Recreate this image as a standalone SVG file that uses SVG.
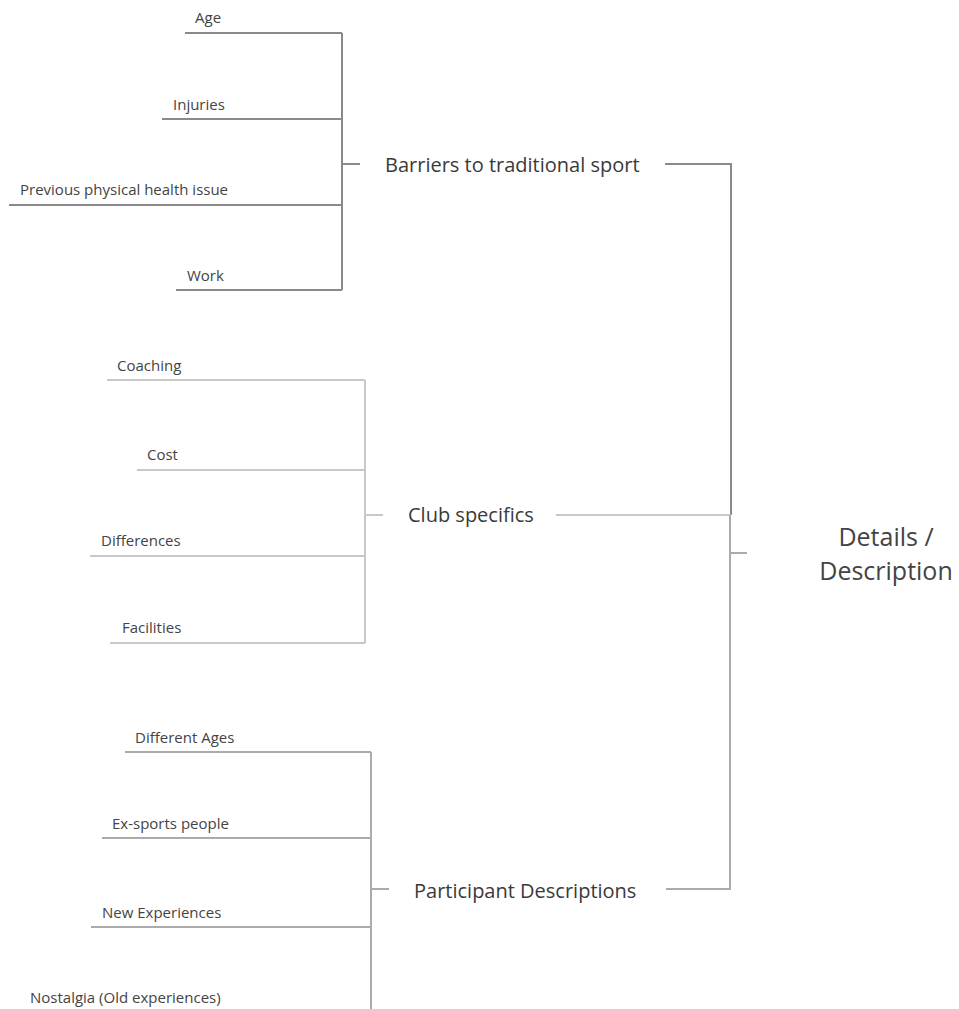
<svg xmlns="http://www.w3.org/2000/svg" width="959" height="1009" viewBox="0 0 959 1009">
<style>
text{font-family:"Open Sans","Noto Sans","Liberation Sans",sans-serif;fill:#444}
.leaf{font-size:15px}
.mid{font-size:20px;font-weight:500;fill:#3a3a3a}
.root{font-size:25px;fill:#444;text-anchor:middle}
.c{fill:none;stroke-width:2}
.b{stroke:#8a8a8a}
.s{stroke:#c8c8c8}
.p{stroke:#ababab}
</style>
<rect width="959" height="1009" fill="#fff"/>
<g id="connectors">
<path class="c b" d="M185 33H342M162 119H342M9 205H342M176 290H342M342 33V290M342 164H360"/>
<path class="c b" d="M665 164H731V515"/>
<path class="c s" d="M107 380H365M137 470H365M90 556H365M110 643H365M365 380V643M365 515H383"/>
<path class="c s" d="M556 515H731"/>
<path class="c p" d="M125 752H371M102 838H371M91 927H371M371 752V1009M371 889H389"/>
<path class="c p" d="M666 889H730V515M730 553H747"/>
</g>
<g id="root"><text class="root" x="886" y="546">Details /</text><text class="root" x="886" y="580">Description</text></g>
<g id="barriers"><text class="mid" x="385" y="172">Barriers to traditional sport</text></g>
<g id="club"><text class="mid" x="408" y="522">Club specifics</text></g>
<g id="participant"><text class="mid" x="414" y="898">Participant Descriptions</text></g>
<g id="age"><text class="leaf" x="195" y="23">Age</text></g>
<g id="injuries"><text class="leaf" x="173" y="110">Injuries</text></g>
<g id="previous"><text class="leaf" x="20" y="195">Previous physical health issue</text></g>
<g id="work"><text class="leaf" x="187" y="281">Work</text></g>
<g id="coaching"><text class="leaf" x="117" y="371">Coaching</text></g>
<g id="cost"><text class="leaf" x="147" y="460">Cost</text></g>
<g id="differences"><text class="leaf" x="101" y="546">Differences</text></g>
<g id="facilities"><text class="leaf" x="122" y="633">Facilities</text></g>
<g id="differentages"><text class="leaf" x="135" y="743">Different Ages</text></g>
<g id="exsports"><text class="leaf" x="112" y="829">Ex-sports people</text></g>
<g id="newexp"><text class="leaf" x="102" y="918">New Experiences</text></g>
<g id="nostalgia"><text class="leaf" x="30" y="1003">Nostalgia (Old experiences)</text></g>
</svg>
